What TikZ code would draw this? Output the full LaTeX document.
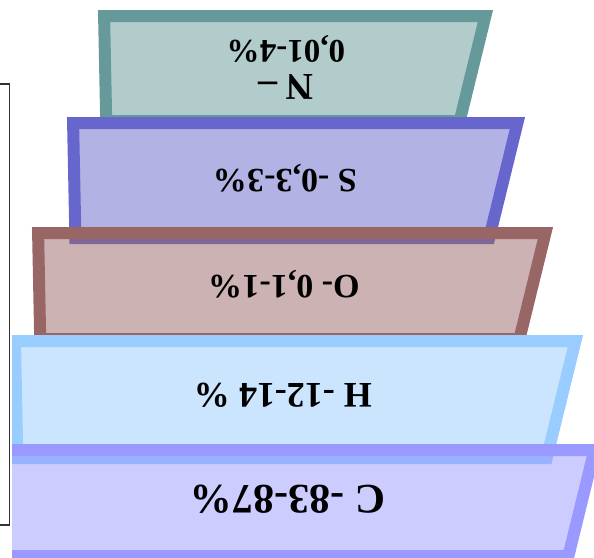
\documentclass[tikz,border=0pt]{standalone}
\usepackage{fontspec}
\setmainfont{Liberation Serif}
\definecolor{tealc}{HTML}{669999}
\definecolor{sulc}{HTML}{6666CC}
\definecolor{oxyc}{HTML}{996666}
\definecolor{hydc}{HTML}{99CCFF}
\definecolor{carc}{HTML}{9999FF}
\definecolor{framec}{HTML}{333333}
\begin{document}
\begin{tikzpicture}[x=1pt,y=-1pt,
  layer/.style={draw=#1, fill=#1, fill opacity=0.5, line width=12pt, line join=miter},
  lbl/.style={rotate=180, font=\bfseries, text=black, align=center, inner sep=0pt}]
\useasboundingbox (0,0) rectangle (594,557);
% frame at left edge
\draw[framec, line width=1.5pt] (-5,84) -- (9.5,84) -- (9.5,525) -- (-5,525);
\begin{scope}
\clip (12,0) rectangle (594,557);
\draw[layer=tealc] (104.1,16) -- (485.4,16) -- (459.7,121) -- (106.2,121) -- cycle;
\draw[layer=sulc] (73.1,123) -- (517.4,123) -- (489.2,238) -- (75.4,238) -- cycle;
\draw[layer=oxyc] (38.1,233) -- (545.4,233) -- (519.4,339) -- (40.2,339) -- cycle;
\draw[layer=hydc] (15,341) -- (575.4,341) -- (546.7,458) -- (17.3,458) -- cycle;
\draw[layer=carc] (-2,450) -- (594.4,450) -- (568.4,556) -- (0,556) -- cycle;
\end{scope}
\node[lbl, font=\bfseries\fontsize{38}{34}\selectfont] (ntxt) at (286,67) {N –\\[0pt]{\fontsize{33}{33}\selectfont 0,01-4\%}};
\node[lbl, font=\bfseries\fontsize{34}{40}\selectfont] (stxt) at (285,178) {S -0,3-3\%};
\node[lbl, font=\bfseries\fontsize{34}{40}\selectfont] (otxt) at (284,284) {O- 0,1-1\%};
\node[lbl, font=\bfseries\fontsize{36}{40}\selectfont] (htxt) at (283,395) {H -12-14 \%};
\node[lbl, font=\bfseries\fontsize{42}{46}\selectfont] (ctxt) at (288,499) {C -83-87\%};
\end{tikzpicture}
\end{document}
